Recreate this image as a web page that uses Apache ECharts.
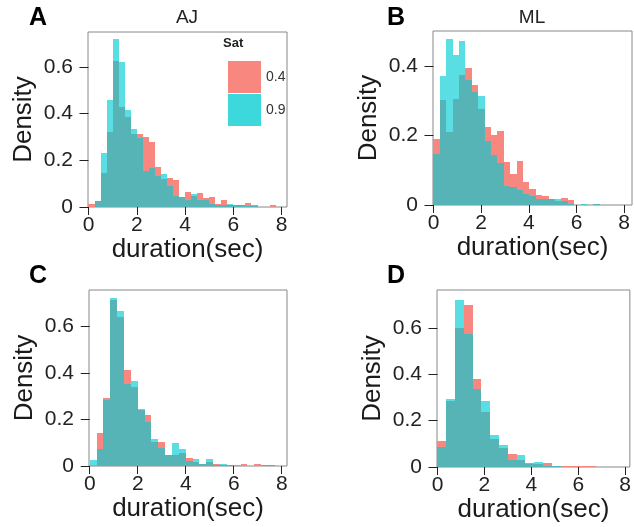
<!DOCTYPE html>
<html>
<head>
<meta charset="utf-8">
<script src="https://cdn.jsdelivr.net/npm/echarts@6/dist/echarts.min.js"></script>
<style>
  html, body { margin: 0; padding: 0; background: #fff; }
  #main { width: 634px; height: 527px; }
</style>
</head>
<body>
<div id="main"></div>
<script>
// histogram densities, one value per bin (bins start at 0)
var satNames = ['0.4', '0.9'];
var xTicks = [0, 2, 4, 6, 8];
var yTicks = [0, 0.2, 0.4, 0.6];
var yTicksML = [0, 0.2, 0.4];

// A - AJ
var ajBinWidth = 0.25;
var ajLow = [0.014, 0.025, 0.144, 0.321, 0.627, 0.427, 0.386, 0.311, 0.314, 0.298, 0.279, 0.171, 0.121, 0.124, 0.114, 0.043,
             0.066, 0.048, 0.060, 0.038, 0.043, 0.013, 0.031, 0.008, 0.010, 0.010, 0.018, 0.010, 0, 0, 0.010, 0];
var ajHigh = [0, 0.026, 0.233, 0.459, 0.720, 0.620, 0.414, 0.333, 0.297, 0.153, 0.167, 0.134, 0.141, 0.088, 0.048, 0.043,
              0.028, 0.055, 0.028, 0.028, 0.013, 0.010, 0.008, 0.014, 0.010, 0.010, 0.005, 0.003, 0, 0, 0, 0];

// B - ML
var mlBinWidth = 0.2685;
var mlLow = [0.190, 0.302, 0.210, 0.305, 0.374, 0.393, 0.344, 0.276, 0.225, 0.200, 0.214, 0.125, 0.090, 0.127, 0.066, 0.047,
             0.028, 0.025, 0.018, 0.011, 0.020, 0.015, 0, 0, 0, 0.003];
var mlHigh = [0.146, 0.371, 0.478, 0.432, 0.470, 0.360, 0.326, 0.314, 0.183, 0.144, 0.121, 0.054, 0.051, 0.044, 0.033, 0.025,
              0.017, 0.017, 0.018, 0.017, 0.011, 0.003, 0, 0.003, 0, 0.003];

// C
var cBinWidth = 0.2857;
var cLow = [0, 0.141, 0.291, 0.714, 0.643, 0.413, 0.341, 0.241, 0.220, 0.105, 0.105, 0.047, 0.047, 0.055, 0.033, 0.019,
            0.009, 0.019, 0.009, 0.004, 0.004, 0.004, 0.007, 0, 0.007, 0.004, 0.004, 0];
var cHigh = [0.026, 0.072, 0.284, 0.722, 0.667, 0.353, 0.367, 0.245, 0.191, 0.116, 0.076, 0.047, 0.098, 0.072, 0.022, 0.030,
             0.009, 0.030, 0.004, 0.009, 0.004, 0, 0, 0, 0, 0.004, 0.004, 0];

// D
var dBinWidth = 0.375;
var dLow = [0.111, 0.283, 0.600, 0.698, 0.378, 0.237, 0.119, 0.083, 0.055, 0.029, 0.017, 0.012, 0.017, 0.006, 0.003, 0.003,
            0.003, 0.003];
var dHigh = [0.086, 0.295, 0.722, 0.574, 0.338, 0.285, 0.137, 0.094, 0.029, 0.050, 0.012, 0.022, 0.006, 0.006, 0, 0, 0, 0];

var redColor = '#F8877F';
var cyanColor = 'rgb(0,205,212)';
var fontFam = '"Liberation Sans", Arial, sans-serif';

function toBins(vals, w) {
    return vals.map(function (v, i) { return [i * w, (i + 1) * w, v]; });
}

// snap edges to whole pixels so neighbouring bins meet without seams
function renderBin(params, api) {
    var top = api.coord([api.value(0), api.value(2)]);
    var bottom = api.coord([api.value(1), 0]);
    var x0 = Math.round(top[0]), x1 = Math.round(bottom[0]);
    var y0 = Math.round(top[1]), y1 = Math.round(bottom[1]);
    return {
        type: 'rect',
        shape: { x: x0, y: y0, width: x1 - x0, height: y1 - y0 },
        style: api.style()
    };
}

var panels = [
    { box: { left: 88, top: 32, width: 199, height: 175 }, xMin: -0.02, xMax: 8.22, yMax: 0.75, ticks: yTicks, bw: ajBinWidth, low: ajLow, high: ajHigh },
    { box: { left: 433, top: 31, width: 199, height: 174 }, xMin: -0.02, xMax: 8.33, yMax: 0.50, ticks: yTicksML, bw: mlBinWidth, low: mlLow, high: mlHigh },
    { box: { left: 89, top: 290, width: 198, height: 176 }, xMin: -0.03, xMax: 8.22, yMax: 0.758, ticks: yTicks, bw: cBinWidth, low: cLow, high: cHigh },
    { box: { left: 437, top: 290, width: 198, height: 177 }, xMin: -0.02, xMax: 8.2, yMax: 0.763, ticks: yTicks, bw: dBinWidth, low: dLow, high: dHigh }
];

var grids = [], xAxes = [], yAxes = [], series = [];
panels.forEach(function (p, k) {
    grids.push(Object.assign({ show: true, borderColor: '#888', borderWidth: 1, containLabel: false }, p.box));
    xAxes.push({
        type: 'value', gridIndex: k, min: p.xMin, max: p.xMax,
        name: 'duration(sec)', nameLocation: 'middle', nameGap: 24,
        nameTextStyle: { fontFamily: fontFam, fontSize: 26, color: '#1a1a1a' },
        axisLine: { show: false },
        axisTick: { show: true, length: 8, customValues: xTicks, lineStyle: { color: '#222', width: 1 } },
        axisLabel: { customValues: xTicks, margin: 8, fontFamily: fontFam, fontSize: 21, color: '#222' },
        splitLine: { show: false }
    });
    yAxes.push({
        type: 'value', gridIndex: k, min: 0, max: p.yMax,
        name: 'Density', nameLocation: 'middle', nameGap: 51,
        nameTextStyle: { fontFamily: fontFam, fontSize: 26, color: '#1a1a1a' },
        axisLine: { show: false },
        axisTick: { show: true, length: 9, customValues: p.ticks, lineStyle: { color: '#222', width: 1 } },
        axisLabel: { customValues: p.ticks, margin: 15, fontFamily: fontFam, fontSize: 21, color: '#222' },
        splitLine: { show: false }
    });
    series.push({
        name: satNames[0], type: 'custom', xAxisIndex: k, yAxisIndex: k,
        renderItem: renderBin, encode: { x: [0, 1], y: 2 },
        itemStyle: { color: redColor, opacity: 1 }, z: 2,
        data: toBins(p.low, p.bw)
    });
    series.push({
        name: satNames[1], type: 'custom', xAxisIndex: k, yAxisIndex: k,
        renderItem: renderBin, encode: { x: [0, 1], y: 2 },
        itemStyle: { color: cyanColor, opacity: 0.65 }, z: 3,
        data: toBins(p.high, p.bw)
    });
});

var myChart = echarts.init(document.getElementById('main'), null, { renderer: 'canvas' });
var option = {
    animation: false,
    backgroundColor: '#fff',
    grid: grids,
    xAxis: xAxes,
    yAxis: yAxes,
    series: series,
    legend: {
        left: 223, top: 56, orient: 'vertical',
        itemWidth: 33, itemHeight: 32, itemGap: 1, icon: 'rect',
        selectedMode: false,
        textStyle: { fontFamily: fontFam, fontSize: 14, color: '#333' },
        data: [
            { name: satNames[0], itemStyle: { color: redColor, opacity: 1 } },
            { name: satNames[1], itemStyle: { color: '#3DD8DC', opacity: 1 } }
        ]
    },
    graphic: [
        { type: 'text', x: 223, y: 43, style: { text: 'Sat', font: 'bold 13px ' + fontFam, fill: '#222', textVerticalAlign: 'middle' } },
        { type: 'text', x: 187, y: 18, style: { text: 'AJ', font: '19px ' + fontFam, fill: '#222', textAlign: 'center', textVerticalAlign: 'middle' } },
        { type: 'text', x: 532, y: 18, style: { text: 'ML', font: '19px ' + fontFam, fill: '#222', textAlign: 'center', textVerticalAlign: 'middle' } },
        { type: 'text', x: 29, y: 18, style: { text: 'A', font: 'bold 25px ' + fontFam, fill: '#000', textVerticalAlign: 'middle' } },
        { type: 'text', x: 387, y: 18, style: { text: 'B', font: 'bold 25px ' + fontFam, fill: '#000', textVerticalAlign: 'middle' } },
        { type: 'text', x: 29, y: 276, style: { text: 'C', font: 'bold 25px ' + fontFam, fill: '#000', textVerticalAlign: 'middle' } },
        { type: 'text', x: 387, y: 276, style: { text: 'D', font: 'bold 25px ' + fontFam, fill: '#000', textVerticalAlign: 'middle' } }
    ]
};
myChart.setOption(option);
</script>
</body>
</html>
